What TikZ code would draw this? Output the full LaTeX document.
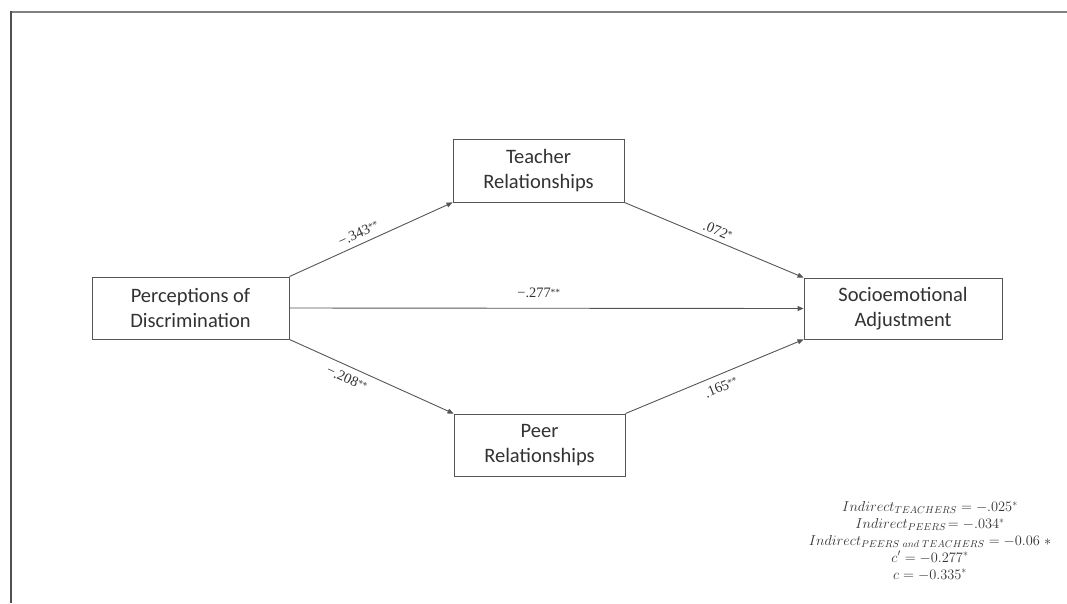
\documentclass[tikz,border=0pt]{standalone}
\usepackage{fix-cm}
\usepackage{fontspec}
\setmainfont{Carlito}
\newfontfamily\lblfont{Liberation Serif}
\usetikzlibrary{arrows.meta}
\definecolor{edgegray}{RGB}{85,85,85}
\definecolor{textgray}{RGB}{50,50,50}
\definecolor{framegray}{RGB}{128,128,128}
\definecolor{framedark}{RGB}{80,80,80}
\newcommand{\sig}[1]{{\fontsize{9.5}{10}\selectfont\raisebox{2.5pt}{#1}}}
\begin{document}
\begin{tikzpicture}[x=1pt,y=-1pt,
  varbox/.style={draw=edgegray, line width=0.9pt, fill=white, text=textgray,
    align=center, inner sep=0pt, font=\fontsize{20.5}{25}\selectfont},
  path/.style={draw=edgegray, line width=0.9pt, -{Triangle[length=6pt,width=5pt]}},
  coef/.style={font=\lblfont\fontsize{14.4}{16}\selectfont, text=textgray, inner sep=3pt, sloped}
]
\useasboundingbox (0,0) rectangle (1067,603);
% frame
\draw[framegray, line width=2pt] (10,12) -- (1067,12);
\draw[framedark, line width=2pt] (11,11) -- (11,603);

% boxes
\node[varbox, minimum width=197pt, minimum height=62pt] (pd) at (190.5,308) {Perceptions of\\Discrimination};
\node[varbox, minimum width=171pt, minimum height=63pt] (tr) at (538.5,170.5) {Teacher\\Relationships};
\node[varbox, minimum width=171pt, minimum height=62pt] (pr) at (539.5,445) {Peer\\Relationships};
\node[varbox, minimum width=198pt, minimum height=61pt] (se) at (903,308.5) {Socioemotional\\Adjustment};

% paths
\draw[path] (pd.north east) -- node[coef, pos=0.45, above=2.5pt] (a1) {−.343\sig{**}} (tr.south west);
\draw[path] (pd.south east) -- node[coef, pos=0.38, below=3.5pt] (a2) {−.208\sig{**}} (pr.north west);
\draw[path] (pd.east) -- node[coef, pos=0.485, above=7pt] (c1) {−.277\sig{**}} (se.west);
\draw[path] (tr.south east) -- node[coef, pos=0.5, above=1.5pt] (b1) {.072\sig{*}} (se.north west);
\draw[path] (pr.north east) -- node[coef, pos=0.51, below=4pt] (b2) {.165\sig{**}} (se.south west);

% effects
\node[text=textgray, align=center, inner sep=0pt, font=\fontsize{14.4}{16.8}\selectfont] (eqs) at (930,541) {%
$Indirect_{TEACHERS} = -.025^{*}$\\
$Indirect_{PEERS}\!= -.034^{*}$\\
$Indirect_{PEERS\ and\ TEACHERS} = -0.06\;{\ast}$\\
$c' = -0.277^{*}$\\
$c = -0.335^{*}$};
\end{tikzpicture}
\end{document}
